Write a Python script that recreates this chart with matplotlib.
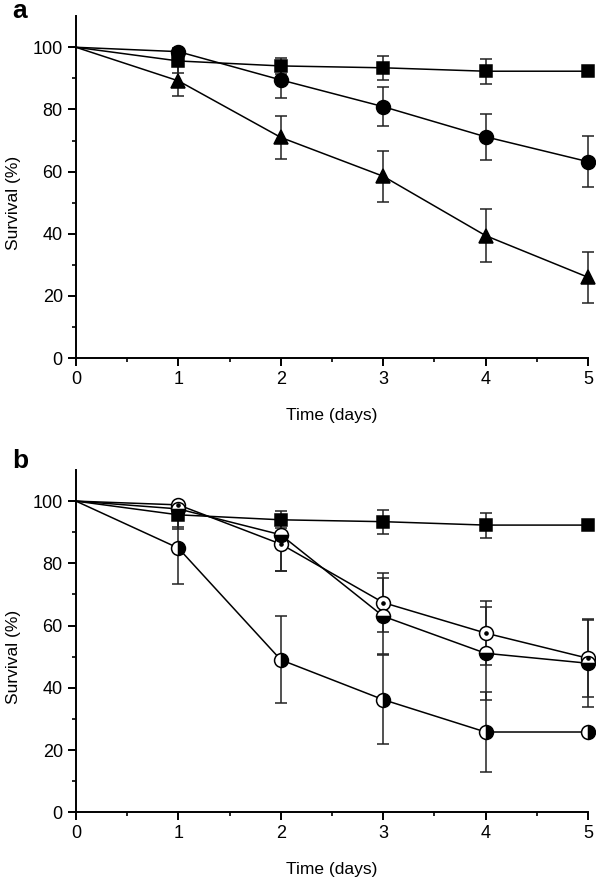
import numpy as np
import matplotlib
matplotlib.use('Agg')
from matplotlib import pyplot as plt
from matplotlib.ticker import MultipleLocator, FixedLocator

plt.rcParams['font.family'] = ['Liberation Sans', 'DejaVu Sans']

days = [0, 1, 2, 3, 4, 5]

# panel a
sq = [100, 95.6, 94.0, 93.4, 92.3, 92.3]
sq_err = [0, 3.8, 2.7, 3.9, 4.0, 0]
circ = [100, 98.6, 89.5, 80.9, 71.2, 63.2]
circ_err = [0, 1.2, 5.7, 6.2, 7.4, 8.2]
tri = [100, 89.2, 71.0, 58.5, 39.4, 26.0]
tri_err = [0, 5.0, 6.9, 8.2, 8.6, 8.2]

# panel b
dot = [100, 98.8, 86.2, 67.4, 57.6, 49.5]
dot_err = [0, 1.0, 8.7, 9.5, 10.4, 12.5]
bot = [100, 97.5, 89.2, 63.0, 51.1, 47.9]
bot_lo = [0, 6.5, 11.7, 12.2, 15.0, 14.0]
bot_hi = [0, 2.0, 6.5, 12.2, 15.0, 14.0]
lr = [100, 84.9, 49.0, 36.2, 25.8, 25.8]
lr_err = [0, 11.6, 14.0, 14.4, 13.0, 0]

fig = plt.figure(figsize=(5.96, 8.81), dpi=100)
ax_a = fig.add_axes([0.1275, 0.5936, 0.859, 0.388])
ax_b = fig.add_axes([0.1275, 0.078, 0.859, 0.3885])


def series(ax, y, yerr, **kw):
    ax.errorbar(days[1:], y[1:], yerr=np.array(yerr)[..., 1:], fmt='none', ecolor='#222222',
                elinewidth=1.1, capsize=4.6, capthick=1.1, clip_on=False, zorder=2)
    ax.plot(days, y, '-', color='black', lw=1.1, markevery=slice(1, None),
            markeredgecolor='black', markeredgewidth=1.1, clip_on=False, zorder=3, **kw)


series(ax_a, sq, sq_err, marker='s', ms=9, markerfacecolor='black')
series(ax_a, circ, circ_err, marker='o', ms=10, markerfacecolor='black')
series(ax_a, tri, tri_err, marker='^', ms=10, markerfacecolor='black')

series(ax_b, sq, sq_err, marker='s', ms=9, markerfacecolor='black')
series(ax_b, dot, dot_err, marker='o', ms=10, markerfacecolor='white')
ax_b.plot(days[1:], dot[1:], 'o', ms=2.3, color='black', clip_on=False, zorder=4)
series(ax_b, bot, [bot_lo, bot_hi], marker='o', ms=10, fillstyle='bottom',
       markerfacecolor='black', markerfacecoloralt='white')
series(ax_b, lr, lr_err, marker='o', ms=10, fillstyle='right',
       markerfacecolor='black', markerfacecoloralt='white')

for ax, lab, ybase in [(ax_a, 'a', 18), (ax_b, 'b', 468)]:
    ax.set_xlim(0, 5)
    ax.set_ylim(0, 110)
    ax.spines['top'].set_visible(False)
    ax.spines['right'].set_visible(False)
    ax.spines['left'].set_linewidth(1.4)
    ax.spines['bottom'].set_linewidth(1.4)
    ax.xaxis.set_major_locator(MultipleLocator(1))
    ax.xaxis.set_minor_locator(MultipleLocator(0.5))
    ax.yaxis.set_major_locator(FixedLocator([0, 20, 40, 60, 80, 100]))
    ax.yaxis.set_minor_locator(FixedLocator([10, 30, 50, 70, 90]))
    ax.tick_params(which='major', length=5.5, width=1.4, labelsize=13, pad=4)
    ax.tick_params(which='minor', length=3, width=1.2)
    ax.set_xlabel('Time (days)', fontsize=12.5)
    ax.set_ylabel('Survival (%)', fontsize=12.5)
    ax.xaxis.set_label_coords(0.5, -0.145)
    ax.yaxis.set_label_coords(-0.108, 50 / 110)
    fig.text(12 / 596, 1 - ybase / 881, lab, fontsize=19, fontweight='bold', va='baseline')

fig.savefig('out.png', dpi=100)
